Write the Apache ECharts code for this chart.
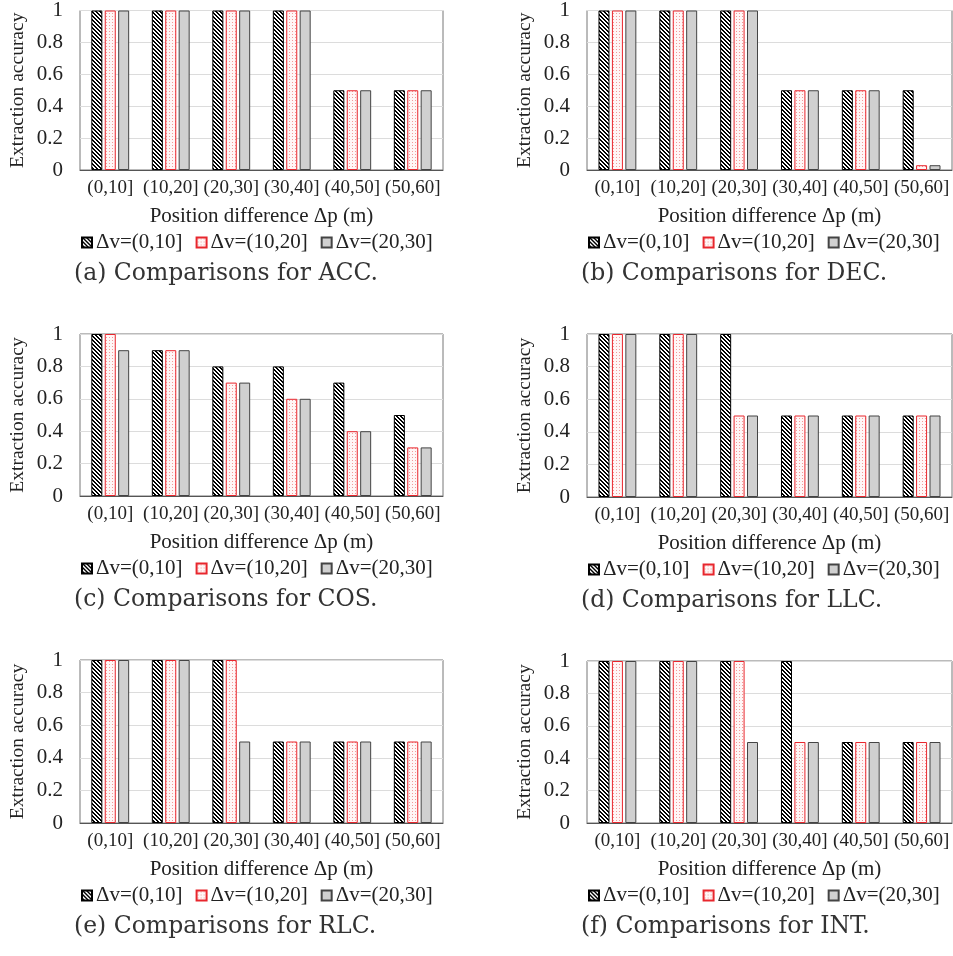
<!DOCTYPE html>
<html><head><meta charset="utf-8">
<script src="https://cdn.jsdelivr.net/npm/echarts@6/dist/echarts.min.js"></script>
<style>html,body{margin:0;padding:0;background:#fff}#c{width:953px;height:956px}</style>
</head><body><div id="c"></div>
<script>
const categories = ['(0,10]','(10,20]','(20,30]','(30,40]','(40,50]','(50,60]'];
const seriesNames = ['Δv=(0,10]','Δv=(10,20]','Δv=(20,30]'];
const yTickLabels = ['0','0.2','0.4','0.6','0.8','1'];
const xTitle = 'Position difference Δp (m)';
const yTitle = 'Extraction accuracy';

const acc1 = [1,1,1,1,0.5,0.5];
const acc2 = [1,1,1,1,0.5,0.5];
const acc3 = [1,1,1,1,0.5,0.5];
const dec1 = [1,1,1,0.5,0.5,0.5];
const dec2 = [1,1,1,0.5,0.5,0.03];
const dec3 = [1,1,1,0.5,0.5,0.03];
const cos1 = [1,0.9,0.8,0.8,0.7,0.5];
const cos2 = [1,0.9,0.7,0.6,0.4,0.3];
const cos3 = [0.9,0.9,0.7,0.6,0.4,0.3];
const llc1 = [1,1,1,0.5,0.5,0.5];
const llc2 = [1,1,0.5,0.5,0.5,0.5];
const llc3 = [1,1,0.5,0.5,0.5,0.5];
const rlc1 = [1,1,1,0.5,0.5,0.5];
const rlc2 = [1,1,1,0.5,0.5,0.5];
const rlc3 = [1,1,0.5,0.5,0.5,0.5];
const int1 = [1,1,1,1,0.5,0.5];
const int2 = [1,1,1,0.5,0.5,0.5];
const int3 = [1,1,0.5,0.5,0.5,0.5];

const captions = ['(a) Comparisons for ACC.','(b) Comparisons for DEC.','(c) Comparisons for COS.','(d) Comparisons for LLC.','(e) Comparisons for RLC.','(f) Comparisons for INT.'];
const panelData = [[acc1,acc2,acc3],[dec1,dec2,dec3],[cos1,cos2,cos3],[llc1,llc2,llc3],[rlc1,rlc2,rlc3],[int1,int2,int3]];

// layout
const grids = [
  {left:80, top:8, width:363, height:162},
  {left:587, top:8, width:365, height:162},
  {left:80, top:334, width:363, height:162},
  {left:587, top:334, width:365, height:163},
  {left:80, top:660, width:363, height:163},
  {left:587, top:661, width:365, height:162}
];

function stripeCanvas(){
  const c=document.createElement('canvas'); c.width=4; c.height=4;
  const g=c.getContext('2d'); g.fillStyle='#fff'; g.fillRect(0,0,4,4);
  g.fillStyle='#000';
  for(let x=0;x<4;x++)for(let y=0;y<4;y++){ if((((x-y)%4)+4)%4<2) g.fillRect(x,y,1,1); }
  return c;
}
function dotCanvas(){
  const c=document.createElement('canvas'); c.width=3; c.height=3;
  const g=c.getContext('2d'); g.fillStyle='#fff6f6'; g.fillRect(0,0,3,3);
  g.fillStyle='#f39a9a'; g.fillRect(1,1,1,1);
  return c;
}
const styles = [
  {color:{image:stripeCanvas(),repeat:'repeat'}, borderColor:'#000', borderWidth:1},
  {color:{image:dotCanvas(),repeat:'repeat'}, borderColor:'#e8262d', borderWidth:1},
  {color:'#d0d0d0', borderColor:'#444', borderWidth:1}
];

const FONT = 'Liberation Serif';
const option = {animation:false, grid:[], xAxis:[], yAxis:[], series:[], legend:[], title:[]};
grids.forEach((gr,i)=>{
  option.grid.push(Object.assign({show:true, borderColor:'#777', borderWidth:1, backgroundColor:'#fff'}, gr));
  option.xAxis.push({type:'category', gridIndex:i, data:categories,
    axisLine:{lineStyle:{color:'#555'}}, axisTick:{show:false},
    axisLabel:{color:'#222', fontFamily:FONT, fontSize:19, margin:9, interval:0},
    name:xTitle, nameLocation:'middle', nameGap:36,
    nameTextStyle:{color:'#222', fontFamily:FONT, fontSize:21}});
  option.yAxis.push({type:'value', gridIndex:i, min:0, max:1, interval:0.2,
    axisLine:{show:false}, axisTick:{show:false},
    splitLine:{lineStyle:{color:'#dcdcdc'}},
    axisLabel:{color:'#222', fontFamily:FONT, fontSize:21, margin:17,
      formatter:(v)=>yTickLabels[Math.round(v*5)]},
    name:yTitle, nameLocation:'middle', nameGap:52,
    nameTextStyle:{color:'#222', fontFamily:FONT, fontSize:19.5}});
  panelData[i].forEach((arr,k)=>{
    option.series.push({type:'bar', name:seriesNames[k], xAxisIndex:i, yAxisIndex:i,
      data:arr, barWidth:11, barGap:'22%', itemStyle:styles[k]});
  });
  const bottom = gr.top+gr.height;
  option.legend.push({data:seriesNames, left: gr.left-4, top:bottom+57,
    icon:'rect', itemWidth:10, itemHeight:10, itemGap:13,
    textStyle:{color:'#222', fontFamily:FONT, fontSize:21, padding:[0,0,0,-1]}});
  option.title.push({text:captions[i], left: gr.left-11, top:bottom+87,
    textStyle:{color:'#333', fontFamily:'DejaVu Serif', fontSize:23.5, fontWeight:'normal'}});
});
const chart = echarts.init(document.getElementById('c'), null, {renderer:'canvas'});
chart.setOption(option);
</script></body></html>
